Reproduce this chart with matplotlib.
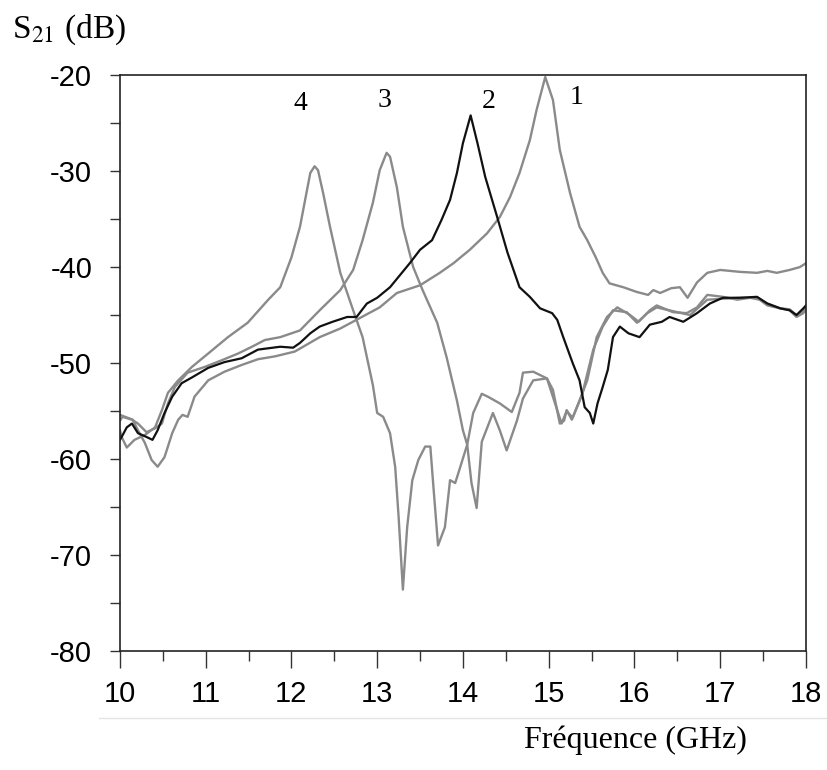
import matplotlib
matplotlib.use('Agg')
import matplotlib.pyplot as plt
from matplotlib.lines import Line2D
from matplotlib.ticker import MultipleLocator

# courbe 1 (gris, pic vers 15 GHz)
f1 = [10.0, 10.06, 10.15, 10.21, 10.29, 10.37, 10.44, 10.52, 10.61, 10.68, 10.73, 10.79,
      10.87, 11.03, 11.22, 11.42, 11.61, 11.81, 12.04, 12.33, 12.57, 12.80, 13.03, 13.23,
      13.50, 13.73, 13.89, 14.08, 14.28, 14.43, 14.55, 14.66, 14.78, 14.86, 14.96, 15.05,
      15.13, 15.25, 15.36, 15.45, 15.55, 15.63, 15.71, 15.87, 16.03, 16.16, 16.22, 16.30,
      16.43, 16.53, 16.62, 16.73, 16.85, 17.0, 17.23, 17.43, 17.55, 17.66, 17.81, 17.93, 18.0]
s1 = [-55.4, -55.6, -55.9, -57.0, -58.3, -60.1, -60.8, -59.8, -57.3, -55.9, -55.4, -55.6,
      -53.5, -51.8, -50.9, -50.2, -49.6, -49.3, -48.8, -47.3, -46.4, -45.3, -44.2, -42.7,
      -41.9, -40.6, -39.6, -38.2, -36.5, -34.8, -32.7, -30.2, -26.8, -23.6, -20.2, -22.6,
      -27.8, -32.3, -35.8, -37.2, -39.0, -40.6, -41.7, -42.1, -42.6, -42.9, -42.4, -42.7,
      -42.2, -42.1, -43.2, -41.6, -40.6, -40.3, -40.5, -40.6, -40.4, -40.6, -40.3, -40.0, -39.6]

# courbe 2 (noire, pic vers 14.1 GHz)
f2 = [10.0, 10.02, 10.08, 10.14, 10.21, 10.31, 10.38, 10.44, 10.52, 10.61, 10.72, 10.84,
      11.03, 11.22, 11.42, 11.61, 11.87, 12.02, 12.10, 12.22, 12.33, 12.48, 12.65, 12.76,
      12.88, 13.0, 13.15, 13.38, 13.5, 13.64, 13.75, 13.85, 13.93, 14.0, 14.09, 14.17,
      14.26, 14.40, 14.52, 14.66, 14.78, 14.90, 15.04, 15.10, 15.17, 15.28, 15.36, 15.42,
      15.48, 15.52, 15.57, 15.63, 15.69, 15.75, 15.83, 15.93, 16.06, 16.18, 16.32, 16.41,
      16.57, 16.73, 16.88, 17.03, 17.23, 17.43, 17.55, 17.70, 17.81, 17.89, 17.97, 18.0]
s2 = [-58.0, -57.7, -56.7, -56.3, -57.3, -57.7, -58.0, -57.0, -55.2, -53.5, -52.1, -51.5,
      -50.5, -49.9, -49.5, -48.6, -48.3, -48.4, -47.9, -46.9, -46.2, -45.7, -45.2, -45.2,
      -43.8, -43.2, -42.1, -39.6, -38.2, -37.2, -35.1, -33.0, -30.2, -27.1, -24.2, -27.1,
      -30.6, -34.8, -38.5, -42.1, -43.1, -44.3, -44.8, -45.5, -47.3, -50.0, -51.8, -54.6,
      -55.2, -56.3, -54.2, -52.5, -50.7, -47.3, -46.2, -46.9, -47.3, -46.0, -45.7, -45.2,
      -45.7, -44.8, -43.8, -43.2, -43.2, -43.1, -43.8, -44.3, -44.5, -45.0, -44.3, -44.0]

# courbe 3 (gris, pic vers 13.1 GHz)
f3 = [10.0, 10.03, 10.14, 10.21, 10.31, 10.41, 10.49, 10.56, 10.64, 10.79, 10.99, 11.19,
      11.38, 11.54, 11.69, 11.87, 12.10, 12.33, 12.57, 12.72, 12.83, 12.95, 13.03, 13.11,
      13.15, 13.23, 13.30, 13.42, 13.53, 13.70, 13.81, 13.93, 14.0, 14.05, 14.10, 14.16,
      14.22, 14.35, 14.43, 14.51, 14.63, 14.70, 14.82, 14.98, 15.05, 15.13, 15.18, 15.21,
      15.27, 15.36, 15.45, 15.56, 15.68, 15.80, 15.95, 16.05, 16.18, 16.26, 16.45, 16.61,
      16.73, 16.85, 17.03, 17.2, 17.35, 17.46, 17.55, 17.70, 17.81, 17.89, 17.97, 18.0]
s3 = [-56.0, -55.6, -55.9, -56.3, -57.2, -56.8, -56.3, -54.2, -52.5, -51.0, -50.4, -49.7,
      -49.0, -48.3, -47.6, -47.3, -46.6, -44.5, -42.4, -40.3, -37.2, -33.3, -29.9, -28.1,
      -28.5, -31.7, -35.8, -40.0, -42.4, -45.8, -49.4, -53.9, -57.0, -58.5, -62.5, -65.1,
      -58.2, -55.2, -57.0, -59.1, -56.0, -53.7, -51.8, -51.6, -52.8, -56.3, -56.0, -54.9,
      -55.9, -53.9, -51.8, -47.3, -45.2, -44.2, -45.0, -45.7, -44.5, -44.0, -44.7, -44.8,
      -44.2, -42.9, -43.1, -43.4, -43.2, -43.4, -44.0, -44.3, -44.5, -45.2, -44.8, -44.3]

# courbe 4 (gris, pic vers 12.3 GHz)
f4 = [10.0, 10.02, 10.08, 10.17, 10.29, 10.41, 10.49, 10.56, 10.68, 10.84, 11.03, 11.26,
      11.49, 11.73, 11.87, 12.0, 12.10, 12.16, 12.22, 12.27, 12.31, 12.37, 12.45, 12.57,
      12.72, 12.83, 12.95, 13.0, 13.07, 13.15, 13.21, 13.25, 13.30, 13.35, 13.41, 13.48,
      13.56, 13.62, 13.65, 13.71, 13.79, 13.85, 13.91, 13.97, 14.05, 14.12, 14.22, 14.29,
      14.43, 14.57, 14.66, 14.70, 14.82, 14.98, 15.10, 15.15, 15.21, 15.28, 15.39, 15.52,
      15.63, 15.75, 15.91, 16.03, 16.15, 16.26, 16.5, 16.65, 16.85, 17.03, 17.23, 17.43,
      17.55, 17.70, 17.81, 17.89, 17.97, 18.0]
s4 = [-57.0, -57.7, -58.8, -58.0, -57.5, -56.7, -54.9, -53.1, -51.8, -50.4, -49.0, -47.3,
      -45.8, -43.4, -42.1, -39.0, -35.8, -33.0, -30.2, -29.5, -29.9, -32.3, -35.8, -40.6,
      -44.5, -47.3, -52.3, -55.2, -55.6, -57.3, -60.8, -66.0, -73.6, -67.1, -62.2, -60.1,
      -58.7, -58.7, -62.2, -69.0, -67.1, -62.2, -62.5, -60.8, -58.5, -55.2, -53.2, -53.5,
      -54.2, -55.1, -53.1, -51.0, -50.9, -51.6, -54.9, -56.3, -55.0, -55.7, -53.3, -48.6,
      -46.2, -44.5, -44.7, -45.8, -44.8, -44.2, -44.7, -45.0, -43.4, -43.3, -43.2, -43.2,
      -43.8, -44.3, -44.4, -45.0, -44.6, -44.2]

labels = ['1', '2', '3', '4']
label_pos = [(15.33, -22.3), (14.30, -22.8), (13.08, -22.6), (12.10, -23.0)]

plt.rcParams['mathtext.fontset'] = 'stix'
plt.rcParams['axes.unicode_minus'] = False

fig = plt.figure(figsize=(8.27, 7.70), dpi=100)
ax = fig.add_axes([0.145, 0.1545, 0.8295, 0.748])

gris = '#8a8a8a'
ax.plot(f4, s4, color=gris, lw=1.7)
ax.plot(f3, s3, color=gris, lw=1.7)
ax.plot(f1, s1, color=gris, lw=1.7)
ax.plot(f2, s2, color='#111111', lw=1.6)

for lab, (x, y) in zip(labels, label_pos):
    ax.text(x, y, lab, fontsize=20, family='Liberation Serif', ha='center', va='center')

ax.set_xlim(10, 18)
ax.set_ylim(-80, -20)
ax.xaxis.set_major_locator(MultipleLocator(1))
ax.xaxis.set_minor_locator(MultipleLocator(0.5))
ax.yaxis.set_major_locator(MultipleLocator(10))
ax.yaxis.set_minor_locator(MultipleLocator(5))
ax.tick_params(axis='x', which='major', direction='out', length=12, width=1, pad=9,
               labelsize=21, color='#333333')
ax.tick_params(axis='x', which='minor', direction='out', length=7, width=1, color='#333333')
ax.tick_params(axis='y', which='both', direction='out', length=7, width=1, pad=13,
               labelsize=21, color='#333333')
for lab in ax.get_xticklabels() + ax.get_yticklabels():
    lab.set_family('Liberation Sans')
for sp in ax.spines.values():
    sp.set_linewidth(1.2)
    sp.set_color('#222222')

fig.text(0.0145, 0.961, 'S$_{21}$ (dB)', fontsize=24, family='Liberation Serif',
         ha='left', va='center')
fig.text(0.768, 0.039, 'Fréquence (GHz)', fontsize=23, family='Liberation Serif',
         ha='center', va='center')

# trait gris clair sous les graduations
fig.add_artist(Line2D([0.12, 1.0], [0.068, 0.068], color='#e4e4e4', lw=1))

plt.savefig('out.png', dpi=100)
